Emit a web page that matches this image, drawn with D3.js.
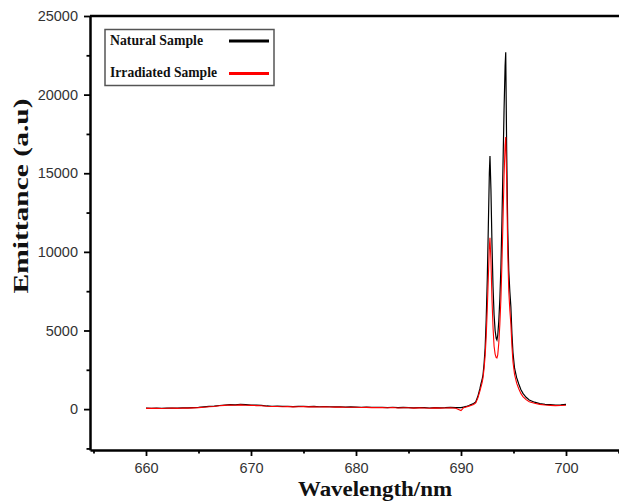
<!DOCTYPE html>
<html>
<head>
<meta charset="utf-8">
<script src="https://cdn.jsdelivr.net/npm/d3@7"></script>
<style>
  html, body { margin: 0; padding: 0; background: #fff; }
  svg { display: block; }
</style>
</head>
<body>
<svg id="chart" width="619" height="501"></svg>
<script>
// ---- data ----
const wavelengths = [
  660.0,660.5,661.0,661.5,662.0,662.5,663.0,663.5,664.0,664.5,
  665.0,665.5,666.0,666.5,667.0,667.5,668.0,668.5,669.0,669.5,
  670.0,670.5,671.0,671.5,672.0,672.5,673.0,673.5,674.0,674.5,
  675.0,675.5,676.0,676.5,677.0,677.5,678.0,678.5,679.0,679.5,
  680.0,680.5,681.0,681.5,682.0,682.5,683.0,683.5,684.0,684.5,
  685.0,685.5,686.0,686.5,687.0,687.5,688.0,688.5,689.0,689.5,
  690.0,690.25,690.5,690.75,691.0,691.2,691.4,691.6,691.8,691.9,
  692.0,692.1,692.2,692.3,692.4,692.5,692.6,692.7,692.76,692.85,
  692.95,693.05,693.15,693.25,693.35,693.42,693.5,693.6,693.7,693.8,
  693.9,694.0,694.1,694.2,694.26,694.35,694.45,694.55,694.65,694.75,
  694.85,694.95,695.1,695.3,695.5,695.7,695.9,696.2,696.5,697.0,
  697.5,698.0,698.5,699.0,699.5,700.0
];
const naturalSample = [
  60,55,65,50,60,70,65,80,75,90,
  110,140,170,190,230,260,290,270,300,280,
  260,250,240,200,180,190,170,180,160,170,
  180,160,170,150,160,150,140,150,130,140,
  130,120,130,110,120,110,100,120,90,110,
  100,80,100,90,70,100,80,90,110,100,
  90,130,170,230,300,360,450,800,1300,1600,
  1850,2200,2900,3900,5700,8200,11500,15000,16100,14000,
  10500,7800,6000,5000,4500,4400,4700,5600,7000,9000,
  12000,15500,19000,21800,22700,16500,11500,8800,7500,6500,
  4800,3600,2600,2000,1600,1250,1000,750,580,440,
  350,300,280,260,270,300
];
const irradiatedSample = [
  50,45,55,40,55,60,50,70,60,80,
  95,120,150,170,210,235,260,245,270,250,
  235,225,215,180,165,170,150,165,145,150,
  160,140,150,135,140,130,125,130,115,120,
  115,100,110,95,100,95,85,100,75,90,
  85,65,80,70,55,80,60,70,85,60,
  -90,90,140,190,250,300,390,700,1150,1400,
  1650,2000,2600,3400,4600,6300,8300,10300,10900,9500,
  7000,5200,4000,3500,3270,3250,3450,4200,5400,7000,
  9300,12000,14800,16800,17300,14500,10000,7500,6300,5400,
  4000,3000,2200,1650,1300,1000,800,600,470,370,
  300,260,240,220,230,250
];
const seriesNames = ["Natural Sample", "Irradiated Sample"];
const seriesColors = ["#000000", "#ff0000"];
const xMajorTicks = [660, 670, 680, 690, 700];
const xMinorTicks = [655, 665, 675, 685, 695, 705];
const yMajorTicks = [0, 5000, 10000, 15000, 20000, 25000];
const yMinorTicks = [-2500, 2500, 7500, 12500, 17500, 22500];
const xTitle = "Wavelength/nm";
const yTitle = "Emittance (a.u)";

// ---- layout ----
const svg = d3.select("#chart");
const plotLeft = 90, plotBottom = 450, plotTop = 16;
const x = d3.scaleLinear().domain([660, 700]).range([146, 566]);
const xLeftVal = x.invert(plotLeft);
const xRightPx = x(706);
x.domain([xLeftVal, 706]).range([plotLeft, xRightPx]);
const y = d3.scaleLinear().domain([-2600, 25000]).range([plotBottom, plotTop]);

// top frame line
svg.append("line")
  .attr("x1", plotLeft).attr("x2", 640).attr("y1", plotTop).attr("y2", plotTop)
  .attr("stroke", "#000").attr("stroke-width", 2.5);

// axes
const tickFont = "'Liberation Sans', Arial, sans-serif";
svg.append("g").attr("transform", `translate(0,${plotBottom})`)
  .call(d3.axisBottom(x).tickValues(xMajorTicks).tickSize(6).tickSizeOuter(0).tickPadding(7).tickFormat(d3.format("d")));
svg.append("g").attr("transform", `translate(0,${plotBottom})`)
  .call(d3.axisBottom(x).tickValues(xMinorTicks).tickSize(3.5).tickSizeOuter(0).tickFormat(""))
  .select(".domain").remove();
svg.append("g").attr("transform", `translate(${plotLeft},0)`)
  .call(d3.axisLeft(y).tickValues(yMajorTicks).tickSize(6).tickSizeOuter(0).tickPadding(6).tickFormat(d3.format("d")));
svg.append("g").attr("transform", `translate(${plotLeft},0)`)
  .call(d3.axisLeft(y).tickValues(yMinorTicks).tickSize(3.5).tickSizeOuter(0).tickFormat(""))
  .select(".domain").remove();

svg.selectAll(".domain").attr("stroke", "#000").attr("stroke-width", 2.5);
svg.selectAll(".tick line").attr("stroke", "#000").attr("stroke-width", 1.8);
svg.selectAll(".tick text")
  .attr("font-family", tickFont).attr("font-size", 14.5).attr("fill", "#333");

// data lines
const line = d3.line().x((d, i) => x(wavelengths[i])).y(d => y(d));
const plot = svg.append("g");
plot.append("path").datum(naturalSample)
  .attr("d", line).attr("fill", "none")
  .attr("stroke", seriesColors[0]).attr("stroke-width", 1.2);
plot.append("path").datum(irradiatedSample)
  .attr("d", line).attr("fill", "none")
  .attr("stroke", seriesColors[1]).attr("stroke-width", 1.1);

// legend
const serif = "'Liberation Serif', 'Times New Roman', serif";
const lg = svg.append("g");
lg.append("rect").attr("x", 105).attr("y", 29.5).attr("width", 169).attr("height", 56)
  .attr("fill", "#fff").attr("stroke", "#555").attr("stroke-width", 1.5);
const legendRows = [
  { name: seriesNames[0], color: seriesColors[0], baseline: 44.5, ly: 41, len: 93 },
  { name: seriesNames[1], color: seriesColors[1], baseline: 76.7, ly: 73.5, len: 107 }
];
legendRows.forEach(r => {
  lg.append("text").attr("x", 110).attr("y", r.baseline)
    .attr("font-family", serif).attr("font-weight", "bold").attr("font-size", 15)
    .attr("textLength", r.len).attr("lengthAdjust", "spacingAndGlyphs")
    .attr("fill", "#111").text(r.name);
  lg.append("line").attr("x1", 229).attr("x2", 269).attr("y1", r.ly).attr("y2", r.ly)
    .attr("stroke", r.color).attr("stroke-width", 3.2);
});

// axis titles
svg.append("text").attr("x", 375).attr("y", 495.5).attr("text-anchor", "middle")
  .attr("font-family", serif).attr("font-weight", "bold").attr("font-size", 20)
  .attr("textLength", 154).attr("lengthAdjust", "spacingAndGlyphs")
  .attr("fill", "#111").text(xTitle);
svg.append("text").attr("transform", "translate(28,196) rotate(-90)")
  .attr("text-anchor", "middle")
  .attr("font-family", serif).attr("font-weight", "bold").attr("font-size", 21)
  .attr("textLength", 195).attr("lengthAdjust", "spacingAndGlyphs")
  .attr("fill", "#111").text(yTitle);
</script>
</body>
</html>
